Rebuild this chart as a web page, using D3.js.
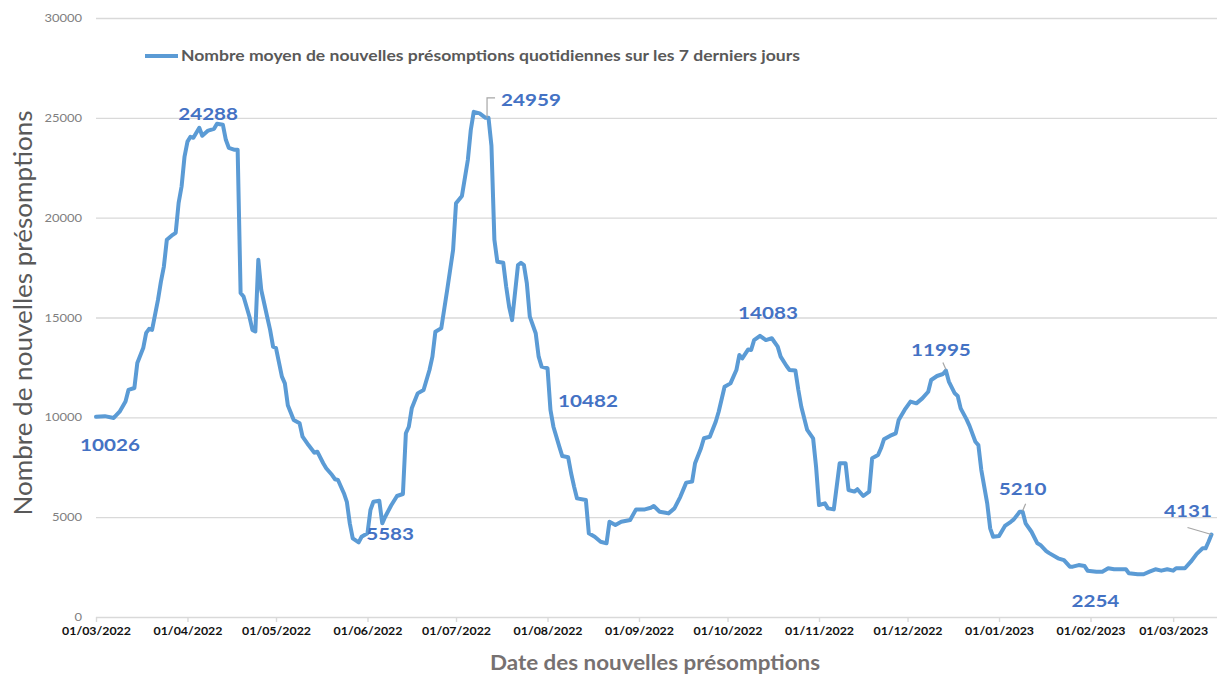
<!DOCTYPE html>
<html>
<head>
<meta charset="utf-8">
<script src="https://cdn.jsdelivr.net/npm/d3@7"></script>
<style>
body { margin: 0; background: #fff; }
text { font-family: Lato, "Liberation Sans", sans-serif; }
</style>
</head>
<body>
<svg></svg>
<script>
var width = 1217
var height = 677

// day offsets since 01/03/2022 and the 7-day average
var startDate = new Date(2022, 2, 1)
var days = [0, 3, 6, 8, 10, 11, 13, 14, 16, 17, 18, 19, 21, 22, 23, 24, 26, 27, 28, 29, 30, 31, 32, 33, 34, 35, 36, 38, 40, 41, 43, 44, 45, 47, 48, 49, 50, 52, 53, 54, 55, 56, 58, 59, 60, 61, 63, 64, 65, 67, 69, 70, 72, 74, 75, 77, 78, 80, 81, 82, 84, 85, 86, 87, 89, 90, 92, 93, 94, 96, 97, 98, 100, 102, 104, 105, 106, 107, 109, 111, 113, 114, 115, 117, 119, 121, 122, 124, 126, 127, 128, 130, 132, 133, 134, 135, 136, 138, 139, 140, 141, 143, 144, 145, 146, 147, 149, 150, 151, 153, 154, 155, 157, 158, 160, 161, 162, 163, 166, 167, 169, 171, 173, 174, 176, 178, 181, 183, 186, 188, 189, 191, 193, 194, 196, 198, 200, 202, 203, 205, 206, 208, 210, 211, 213, 215, 217, 218, 219, 221, 222, 223, 225, 227, 229, 231, 232, 234, 235, 237, 238, 239, 241, 243, 244, 245, 247, 248, 250, 252, 254, 255, 257, 258, 260, 262, 263, 265, 266, 267, 269, 271, 272, 274, 276, 278, 280, 282, 283, 285, 287, 288, 289, 291, 292, 293, 295, 296, 298, 299, 300, 302, 303, 304, 306, 308, 310, 311, 313, 314, 315, 317, 319, 320, 322, 323, 326, 328, 330, 331, 333, 335, 336, 339, 341, 343, 345, 349, 350, 353, 355, 357, 359, 361, 363, 365, 366, 369, 371, 373, 375, 376, 377, 378]
var values = [10026, 10060, 9970, 10280, 10790, 11370, 11470, 12720, 13470, 14230, 14430, 14380, 15880, 16800, 17550, 18890, 19140, 19240, 20740, 21560, 23060, 23810, 24050, 24000, 24250, 24500, 24100, 24360, 24450, 24700, 24650, 23900, 23500, 23400, 23400, 16230, 16050, 15040, 14380, 14300, 17890, 16380, 15040, 14380, 13540, 13470, 12040, 11700, 10600, 9870, 9700, 9030, 8610, 8230, 8280, 7700, 7450, 7110, 6900, 6860, 6200, 5770, 4690, 3940, 3740, 4020, 4190, 5360, 5770, 5820, 4690, 5020, 5583, 6060, 6160, 9200, 9530, 10450, 11200, 11370, 12370, 13040, 14290, 14460, 16380, 18380, 20720, 21090, 22890, 24390, 25300, 25220, 25000, 25000, 23600, 18890, 17790, 17740, 16540, 15540, 14870, 17630, 17740, 17630, 16710, 15040, 14210, 13040, 12540, 12460, 10370, 9530, 8530, 8060, 8000, 7200, 6530, 5940, 5860, 4190, 4020, 3770, 3690, 4770, 4610, 4770, 4860, 5390, 5390, 5470, 5560, 5270, 5220, 5190, 5440, 6020, 6730, 6780, 7700, 8450, 8950, 9030, 9780, 10280, 11530, 11700, 12370, 13120, 12950, 13400, 13370, 13870, 14083, 13870, 13960, 13540, 13040, 12570, 12370, 12340, 11370, 10530, 9370, 8950, 7530, 5610, 5690, 5440, 5390, 7700, 7700, 6360, 6280, 6400, 6060, 6280, 7950, 8110, 8450, 8900, 9070, 9200, 9870, 10370, 10790, 10700, 10950, 11280, 11870, 12070, 12170, 12340, 11790, 11200, 11070, 10450, 9900, 9570, 8780, 8610, 7360, 5690, 4440, 4020, 4060, 4560, 4770, 4890, 5270, 5270, 4690, 4270, 3690, 3610, 3300, 3200, 2940, 2850, 2520, 2520, 2600, 2550, 2320, 2270, 2270, 2440, 2390, 2390, 2190, 2140, 2140, 2270, 2390, 2320, 2390, 2320, 2440, 2440, 2770, 3160, 3440, 3440, 3770, 4131]

// data labels shown on the chart
var labelDays = [0, 38, 100, 132, 154, 225, 288, 314, 339, 378]
var labelTexts = ["10026", "24288", "5583", "24959", "10482", "14083", "11995", "5210", "2254", "4131"]

var xTicks = ["01/03/2022", "01/04/2022", "01/05/2022", "01/06/2022", "01/07/2022", "01/08/2022", "01/09/2022", "01/10/2022", "01/11/2022", "01/12/2022", "01/01/2023", "01/02/2023", "01/03/2023"]
var yTicks = [0, 5000, 10000, 15000, 20000, 25000, 30000]

var seriesName = "Nombre moyen de nouvelles présomptions quotidiennes sur les 7 derniers jours"
var xTitle = "Date des nouvelles présomptions"
var yTitle = "Nombre de nouvelles présomptions"

var sx = 1.18 // the picture's text is stretched sideways
var parse = d3.timeParse("%d/%m/%Y")
var points = days.map(function(d, i) {return {date: d3.timeDay.offset(startDate, d), value: values[i]}})

var svg = d3.select('svg').attr('width', width).attr('height', height)
svg.append('rect').attr('width', width).attr('height', height).attr('fill', '#fff')

var x = d3.scaleTime()
	.domain([startDate, d3.timeDay.offset(startDate, 378)])
	.range([96, 1211.5])
var y = d3.scaleLinear().domain([0, 30000]).range([617, 18])

// gridlines + y labels
var yAxis = svg.append('g').attr('transform', 'translate(96,0)')
	.call(d3.axisLeft(y).tickValues(yTicks).tickSize(-(width - 96)).tickFormat(d3.format('d')))
yAxis.select('.domain').remove()
yAxis.selectAll('line').attr('stroke', '#d9d9d9').attr('stroke-width', 1.4)
yAxis.selectAll('text')
	.attr('x', -14 / sx)
	.attr('transform', 'scale(' + sx + ',1)')
	.attr('fill', '#808080')
	.style('font-size', '11px')

// x axis
var xAxis = svg.append('g').attr('transform', 'translate(0,617)')
	.call(d3.axisBottom(x).tickValues(xTicks.map(parse)).tickFormat(d3.timeFormat('%d/%m/%Y')).tickSize(5).tickPadding(6).tickSizeOuter(0))
xAxis.select('.domain').remove()
xAxis.selectAll('line').attr('stroke', '#d9d9d9').attr('stroke-width', 1.4)
xAxis.selectAll('text')
	.attr('transform', 'scale(' + sx + ',1)')
	.attr('fill', '#111')
	.style('font-size', '10.5px')
	.style('font-weight', 'bold')

// the series
var line = d3.line()
	.x(function(d) {return x(d.date)})
	.y(function(d) {return y(d.value)})

svg.append('path')
	.datum(points)
	.attr('d', line)
	.attr('fill', 'none')
	.attr('stroke', '#5b9bd5')
	.attr('stroke-width', 4)
	.attr('stroke-linejoin', 'round')
	.attr('stroke-linecap', 'round')

// label offsets from their point: [dx, dy, leader]
var labelOffsets = [
	[14, 34, null],
	[0, -10.6, null],
	[-1, 34.5, null],
	[45.5, -12, [[1.5, 0], [1.5, -20], [9.5, -20]]],
	[37.5, -3, null],
	[8, -17, null],
	[-5, -14.6, [[0, -1], [-3, -8]]],
	[0, -17, [[0, -1], [3, -8]]],
	[-1, 35, null],
	[-23.5, -17.5, [[0, 0], [-24, -7]]]
]

var labelGroup = svg.append('g')
labelDays.forEach(function(d, i) {
	var p = points[days.indexOf(d)]
	var px = x(p.date), py = y(p.value)
	var off = labelOffsets[i]
	if (off[2]) {
		labelGroup.append('path')
			.attr('d', d3.line()(off[2].map(function(q) {return [px + q[0], py + q[1]]})))
			.attr('fill', 'none')
			.attr('stroke', '#a6a6a6')
			.attr('stroke-width', 1.2)
	}
	labelGroup.append('text')
		.attr('transform', 'translate(' + (px + off[0]) + ',' + (py + off[1]) + ') scale(' + sx + ',1)')
		.attr('text-anchor', 'middle')
		.attr('fill', '#4472c4')
		.style('font-size', '17.5px')
		.style('font-weight', 'bold')
		.text(labelTexts[i])
})

// legend
var legend = svg.append('g')
legend.append('line')
	.attr('x1', 145).attr('x2', 178).attr('y1', 56).attr('y2', 56)
	.attr('stroke', '#5b9bd5').attr('stroke-width', 4)
legend.append('text')
	.attr('x', 181).attr('y', 61)
	.attr('textLength', 619).attr('lengthAdjust', 'spacingAndGlyphs')
	.attr('fill', '#595959')
	.style('font-size', '15px').style('font-weight', 'bold')
	.text(seriesName)

// axis titles
svg.append('text')
	.attr('x', 655).attr('y', 670)
	.attr('text-anchor', 'middle')
	.attr('textLength', 330).attr('lengthAdjust', 'spacingAndGlyphs')
	.attr('fill', '#767171')
	.style('font-size', '20px').style('font-weight', 'bold')
	.text(xTitle)

svg.append('text')
	.attr('transform', 'translate(32,313) rotate(-90)')
	.attr('text-anchor', 'middle')
	.attr('textLength', 405).attr('lengthAdjust', 'spacingAndGlyphs')
	.attr('fill', '#595959')
	.style('font-size', '25px')
	.text(yTitle)
</script>
</body>
</html>
